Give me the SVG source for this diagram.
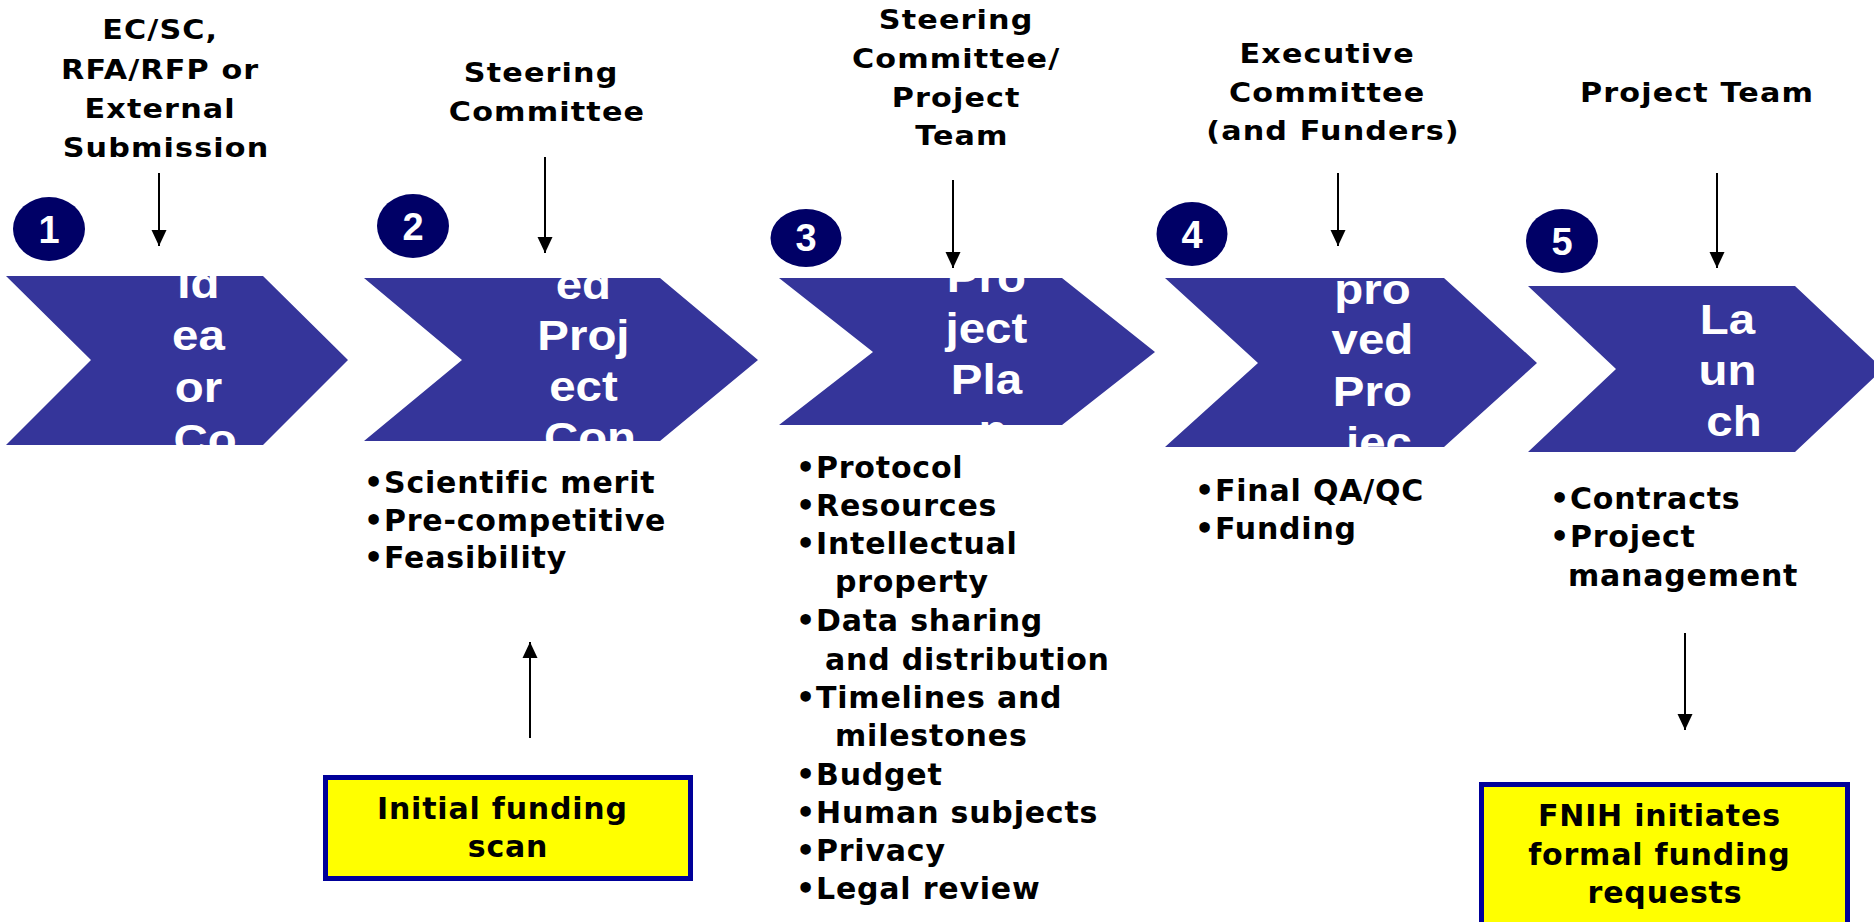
<svg xmlns="http://www.w3.org/2000/svg" width="1874" height="922" viewBox="0 0 1874 922">
  <style>
    .chev { fill: #35359A; }
    .badge { fill: #000066; }
    .badge-num { font-family: "Liberation Sans", Arial, sans-serif; font-weight: bold; font-size: 38px; fill: #ffffff; text-anchor: middle; }
    .stage { font-family: "Liberation Sans", Arial, sans-serif; font-weight: bold; font-size: 42px; fill: #ffffff; text-anchor: middle; }
    .owner { font-family: "DejaVu Sans", Verdana, sans-serif; font-weight: bold; font-size: 27px; fill: #000000; text-anchor: middle; letter-spacing: 1px; }
    .bullets { font-family: "DejaVu Sans", Verdana, sans-serif; font-weight: bold; font-size: 30px; fill: #000000; letter-spacing: 0.8px; }
    .note-box { fill: #FFFF00; stroke: #000099; stroke-width: 5; }
    .note { font-family: "DejaVu Sans", Verdana, sans-serif; font-weight: bold; font-size: 30px; fill: #000000; text-anchor: middle; letter-spacing: 0.8px; }
    .link { stroke: #000000; stroke-width: 2; fill: none; marker-end: url(#head); }
  </style>
  <defs>
    <marker id="head" markerUnits="userSpaceOnUse" markerWidth="16" markerHeight="16" refX="16" refY="8" orient="auto">
      <path d="M0,0.5 L16,8 L0,15.5 Z" fill="#000000"/>
    </marker>
    <clipPath id="clip1"><rect x="0" y="276" width="360" height="169"/></clipPath>
    <clipPath id="clip2"><rect x="360" y="278" width="400" height="163"/></clipPath>
    <clipPath id="clip3"><rect x="775" y="278" width="385" height="147"/></clipPath>
    <clipPath id="clip4"><rect x="1160" y="278" width="380" height="169"/></clipPath>
    <clipPath id="clip5"><rect x="1525" y="286" width="349" height="166"/></clipPath>
  </defs>

  <rect x="0" y="0" width="1874" height="922" fill="#ffffff"/>

  <!-- Stage 1: Idea or Concept -->
  <g id="step1">
    <path class="chev" d="M6,276 L263,276 L348,360 L263,445 L6,445 L91,360 Z"/>
    <g clip-path="url(#clip1)">
      <text class="stage" transform="translate(205 0) scale(1.13 1)">
        <tspan x="0" y="298">Id</tspan>
        <tspan x="0" y="350">ea</tspan>
        <tspan x="0" y="402">or</tspan>
        <tspan x="0" y="454">Co</tspan>
      </text>
    </g>
    <ellipse class="badge" cx="49" cy="229" rx="36" ry="32"/>
    <text class="badge-num" x="49" y="243">1</text>
    <text class="owner" transform="translate(166 0) scale(1.12 1)">
      <tspan x="0" y="39">EC/SC,</tspan>
      <tspan x="0" y="79">RFA/RFP or</tspan>
      <tspan x="0" y="118">External</tspan>
      <tspan x="0" y="157">Submission</tspan>
    </text>
  </g>

  <!-- Stage 2: Approved Project Concept -->
  <g id="step2">
    <path class="chev" d="M364,278 L660,278 L758,360 L660,441 L364,441 L462,360 Z"/>
    <g clip-path="url(#clip2)">
      <text class="stage" transform="translate(590 0) scale(1.13 1)">
        <tspan x="0" y="299">ed</tspan>
        <tspan x="0" y="350">Proj</tspan>
        <tspan x="0" y="401">ect</tspan>
        <tspan x="0" y="452">Con</tspan>
      </text>
    </g>
    <ellipse class="badge" cx="413" cy="226" rx="36" ry="32"/>
    <text class="badge-num" x="413" y="240">2</text>
    <text class="owner" transform="translate(547 0) scale(1.12 1)">
      <tspan x="0" y="82">Steering</tspan>
      <tspan x="0" y="121">Committee</tspan>
    </text>
    <text class="bullets">
      <tspan x="364" y="493">•Scientific merit</tspan>
      <tspan x="364" y="531">•Pre-competitive</tspan>
      <tspan x="364" y="568">•Feasibility</tspan>
    </text>
  </g>

  <!-- Stage 3: Project Plan -->
  <g id="step3">
    <path class="chev" d="M779,278 L1062,278 L1155,352 L1062,425 L779,425 L873,352 Z"/>
    <g clip-path="url(#clip3)">
      <text class="stage" transform="translate(993 0) scale(1.13 1)">
        <tspan x="0" y="292">Pro</tspan>
        <tspan x="0" y="343">ject</tspan>
        <tspan x="0" y="394">Pla</tspan>
        <tspan x="0" y="445">n</tspan>
      </text>
    </g>
    <ellipse class="badge" cx="806" cy="238" rx="35.5" ry="29"/>
    <text class="badge-num" x="806" y="251">3</text>
    <text class="owner" transform="translate(962 0) scale(1.12 1)">
      <tspan x="0" y="29">Steering</tspan>
      <tspan x="0" y="68">Committee/</tspan>
      <tspan x="0" y="107">Project</tspan>
      <tspan x="0" y="145">Team</tspan>
    </text>
    <text class="bullets">
      <tspan x="796" y="478">•Protocol</tspan>
      <tspan x="796" y="516">•Resources</tspan>
      <tspan x="796" y="554">•Intellectual</tspan>
      <tspan x="835" y="592">property</tspan>
      <tspan x="796" y="631">•Data sharing</tspan>
      <tspan x="825" y="670">and distribution</tspan>
      <tspan x="796" y="708">•Timelines and</tspan>
      <tspan x="835" y="746">milestones</tspan>
      <tspan x="796" y="785">•Budget</tspan>
      <tspan x="796" y="823">•Human subjects</tspan>
      <tspan x="796" y="861">•Privacy</tspan>
      <tspan x="796" y="899">•Legal review</tspan>
    </text>
  </g>

  <!-- Stage 4: Approved Project -->
  <g id="step4">
    <path class="chev" d="M1165,278 L1444,278 L1537,363 L1444,447 L1165,447 L1258,363 Z"/>
    <g clip-path="url(#clip4)">
      <text class="stage" transform="translate(1379 0) scale(1.13 1)">
        <tspan x="0" y="304">pro</tspan>
        <tspan x="0" y="354">ved</tspan>
        <tspan x="0" y="406">Pro</tspan>
        <tspan x="0" y="457">jec</tspan>
      </text>
    </g>
    <ellipse class="badge" cx="1192" cy="234" rx="35.5" ry="32"/>
    <text class="badge-num" x="1192" y="248">4</text>
    <text class="owner" transform="translate(1333 0) scale(1.12 1)">
      <tspan x="0" y="63">Executive</tspan>
      <tspan x="0" y="102">Committee</tspan>
      <tspan x="0" y="140">(and Funders)</tspan>
    </text>
    <text class="bullets">
      <tspan x="1195" y="501">•Final QA/QC</tspan>
      <tspan x="1195" y="539">•Funding</tspan>
    </text>
  </g>

  <!-- Stage 5: Launch -->
  <g id="step5">
    <path class="chev" d="M1528,286 L1795,286 L1883,369 L1795,452 L1528,452 L1616,369 Z"/>
    <g clip-path="url(#clip5)">
      <text class="stage" transform="translate(1734 0) scale(1.13 1)">
        <tspan x="0" y="334">La</tspan>
        <tspan x="0" y="385">un</tspan>
        <tspan x="0" y="436">ch</tspan>
      </text>
    </g>
    <ellipse class="badge" cx="1562" cy="241" rx="36" ry="32"/>
    <text class="badge-num" x="1562" y="255">5</text>
    <text class="owner" transform="translate(1697 0) scale(1.12 1)">
      <tspan x="0" y="102">Project Team</tspan>
    </text>
    <text class="bullets">
      <tspan x="1550" y="509">•Contracts</tspan>
      <tspan x="1550" y="547">•Project</tspan>
      <tspan x="1568" y="586">management</tspan>
    </text>
  </g>

  <!-- Funding scan feeding stage 2 -->
  <g id="funding-scan">
    <rect class="note-box" x="325.5" y="777.5" width="365" height="101"/>
    <text class="note">
      <tspan x="508" y="819">Initial funding</tspan>
      <tspan x="508" y="857">scan</tspan>
    </text>
  </g>

  <!-- Funding requests following launch -->
  <g id="funding-requests">
    <rect class="note-box" x="1481.5" y="784.5" width="366" height="200"/>
    <text class="note">
      <tspan x="1665" y="826">FNIH initiates</tspan>
      <tspan x="1665" y="865">formal funding</tspan>
      <tspan x="1665" y="903">requests</tspan>
    </text>
  </g>

  <g id="connectors">
    <line class="link" x1="159" y1="173" x2="159" y2="246"/>
    <line class="link" x1="545" y1="157" x2="545" y2="253"/>
    <line class="link" x1="953" y1="180" x2="953" y2="268"/>
    <line class="link" x1="1338" y1="173" x2="1338" y2="246"/>
    <line class="link" x1="1717" y1="173" x2="1717" y2="268"/>
    <line class="link" x1="530" y1="738" x2="530" y2="642"/>
    <line class="link" x1="1685" y1="633" x2="1685" y2="730"/>
  </g>
</svg>
